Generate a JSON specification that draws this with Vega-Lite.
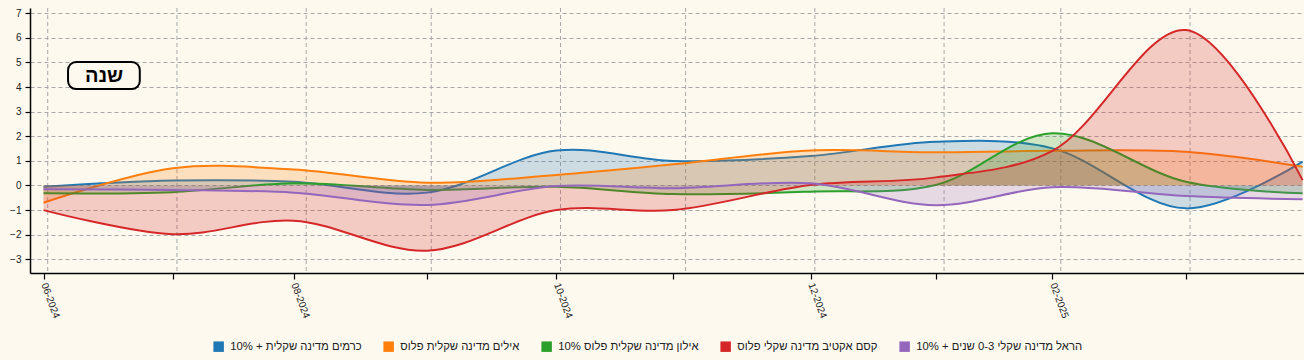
{
  "$schema": "https://vega.github.io/schema/vega-lite/v6.json",
  "autosize": {"type": "none"},
  "padding": {"left": 30, "top": 8, "right": 0, "bottom": 87},
  "width": 1274,
  "height": 265,
  "background": "#fdf9ef",
  "config": {
    "view": {"stroke": null},
    "font": "Liberation Sans",
    "axis": {"labelOverlap": false}
  },
  "datasets": {
    "funds": [
      {"fund": "כרמים מדינה שקלית + 10%", "date": "2024-06-29T00:00:00", "value": -0.05},
      {"fund": "כרמים מדינה שקלית + 10%", "date": "2024-07-30T00:00:00", "value": 0.2},
      {"fund": "כרמים מדינה שקלית + 10%", "date": "2024-08-28T00:00:00", "value": 0.15},
      {"fund": "כרמים מדינה שקלית + 10%", "date": "2024-09-29T00:00:00", "value": -0.29},
      {"fund": "כרמים מדינה שקלית + 10%", "date": "2024-10-30T00:00:00", "value": 1.42},
      {"fund": "כרמים מדינה שקלית + 10%", "date": "2024-11-27T00:00:00", "value": 1.0},
      {"fund": "כרמים מדינה שקלית + 10%", "date": "2024-12-30T00:00:00", "value": 1.2},
      {"fund": "כרמים מדינה שקלית + 10%", "date": "2025-01-29T00:00:00", "value": 1.78},
      {"fund": "כרמים מדינה שקלית + 10%", "date": "2025-02-26T00:00:00", "value": 1.51},
      {"fund": "כרמים מדינה שקלית + 10%", "date": "2025-03-30T00:00:00", "value": -0.93},
      {"fund": "כרמים מדינה שקלית + 10%", "date": "2025-04-27T00:00:00", "value": 0.97},
      {"fund": "אילים מדינה שקלית פלוס", "date": "2024-06-29T00:00:00", "value": -0.7},
      {"fund": "אילים מדינה שקלית פלוס", "date": "2024-07-30T00:00:00", "value": 0.7},
      {"fund": "אילים מדינה שקלית פלוס", "date": "2024-08-28T00:00:00", "value": 0.65},
      {"fund": "אילים מדינה שקלית פלוס", "date": "2024-09-29T00:00:00", "value": 0.11},
      {"fund": "אילים מדינה שקלית פלוס", "date": "2024-10-30T00:00:00", "value": 0.43},
      {"fund": "אילים מדינה שקלית פלוס", "date": "2024-11-27T00:00:00", "value": 0.86},
      {"fund": "אילים מדינה שקלית פלוס", "date": "2024-12-30T00:00:00", "value": 1.42},
      {"fund": "אילים מדינה שקלית פלוס", "date": "2025-01-29T00:00:00", "value": 1.35},
      {"fund": "אילים מדינה שקלית פלוס", "date": "2025-02-26T00:00:00", "value": 1.41},
      {"fund": "אילים מדינה שקלית פלוס", "date": "2025-03-30T00:00:00", "value": 1.37},
      {"fund": "אילים מדינה שקלית פלוס", "date": "2025-04-27T00:00:00", "value": 0.76},
      {"fund": "אילון מדינה שקלית פלוס 10%", "date": "2024-06-29T00:00:00", "value": -0.32},
      {"fund": "אילון מדינה שקלית פלוס 10%", "date": "2024-07-30T00:00:00", "value": -0.27},
      {"fund": "אילון מדינה שקלית פלוס 10%", "date": "2024-08-28T00:00:00", "value": 0.09},
      {"fund": "אילון מדינה שקלית פלוס 10%", "date": "2024-09-29T00:00:00", "value": -0.18},
      {"fund": "אילון מדינה שקלית פלוס 10%", "date": "2024-10-30T00:00:00", "value": -0.05},
      {"fund": "אילון מדינה שקלית פלוס 10%", "date": "2024-11-27T00:00:00", "value": -0.35},
      {"fund": "אילון מדינה שקלית פלוס 10%", "date": "2024-12-30T00:00:00", "value": -0.25},
      {"fund": "אילון מדינה שקלית פלוס 10%", "date": "2025-01-29T00:00:00", "value": 0.02},
      {"fund": "אילון מדינה שקלית פלוס 10%", "date": "2025-02-26T00:00:00", "value": 2.12},
      {"fund": "אילון מדינה שקלית פלוס 10%", "date": "2025-03-30T00:00:00", "value": 0.15},
      {"fund": "אילון מדינה שקלית פלוס 10%", "date": "2025-04-27T00:00:00", "value": -0.32},
      {"fund": "קסם אקטיב מדינה שקלי פלוס", "date": "2024-06-29T00:00:00", "value": -1.0},
      {"fund": "קסם אקטיב מדינה שקלי פלוס", "date": "2024-07-30T00:00:00", "value": -1.98},
      {"fund": "קסם אקטיב מדינה שקלי פלוס", "date": "2024-08-28T00:00:00", "value": -1.43},
      {"fund": "קסם אקטיב מדינה שקלי פלוס", "date": "2024-09-29T00:00:00", "value": -2.65},
      {"fund": "קסם אקטיב מדינה שקלי פלוס", "date": "2024-10-30T00:00:00", "value": -1.0},
      {"fund": "קסם אקטיב מדינה שקלי פלוס", "date": "2024-11-27T00:00:00", "value": -1.0},
      {"fund": "קסם אקטיב מדינה שקלי פלוס", "date": "2024-12-30T00:00:00", "value": 0.02},
      {"fund": "קסם אקטיב מדינה שקלי פלוס", "date": "2025-01-29T00:00:00", "value": 0.33},
      {"fund": "קסם אקטיב מדינה שקלי פלוס", "date": "2025-02-26T00:00:00", "value": 1.41},
      {"fund": "קסם אקטיב מדינה שקלי פלוס", "date": "2025-03-30T00:00:00", "value": 6.32},
      {"fund": "קסם אקטיב מדינה שקלי פלוס", "date": "2025-04-27T00:00:00", "value": 0.22},
      {"fund": "הראל מדינה שקלי 0-3 שנים + 10%", "date": "2024-06-29T00:00:00", "value": -0.15},
      {"fund": "הראל מדינה שקלי 0-3 שנים + 10%", "date": "2024-07-30T00:00:00", "value": -0.18},
      {"fund": "הראל מדינה שקלי 0-3 שנים + 10%", "date": "2024-08-28T00:00:00", "value": -0.29},
      {"fund": "הראל מדינה שקלי 0-3 שנים + 10%", "date": "2024-09-29T00:00:00", "value": -0.79},
      {"fund": "הראל מדינה שקלי 0-3 שנים + 10%", "date": "2024-10-30T00:00:00", "value": -0.02},
      {"fund": "הראל מדינה שקלי 0-3 שנים + 10%", "date": "2024-11-27T00:00:00", "value": -0.11},
      {"fund": "הראל מדינה שקלי 0-3 שנים + 10%", "date": "2024-12-30T00:00:00", "value": 0.09},
      {"fund": "הראל מדינה שקלי 0-3 שנים + 10%", "date": "2025-01-29T00:00:00", "value": -0.8},
      {"fund": "הראל מדינה שקלי 0-3 שנים + 10%", "date": "2025-02-26T00:00:00", "value": -0.07},
      {"fund": "הראל מדינה שקלי 0-3 שנים + 10%", "date": "2025-03-30T00:00:00", "value": -0.43},
      {"fund": "הראל מדינה שקלי 0-3 שנים + 10%", "date": "2025-04-27T00:00:00", "value": -0.56}
    ],
    "gridDates": [
      {"date": "2024-06-30T00:00:00"},
      {"date": "2024-07-31T00:00:00"},
      {"date": "2024-08-31T00:00:00"},
      {"date": "2024-09-30T00:00:00"},
      {"date": "2024-10-31T00:00:00"},
      {"date": "2024-11-30T00:00:00"},
      {"date": "2024-12-31T00:00:00"},
      {"date": "2025-01-31T00:00:00"},
      {"date": "2025-02-28T00:00:00"},
      {"date": "2025-03-31T00:00:00"}
    ]
  },
  "layer": [
    {
      "data": {"name": "gridDates"},
      "mark": {"type": "rule", "color": "#a8a8a8", "strokeWidth": 1, "strokeDash": [4, 3]},
      "encoding": {
        "x": {"field": "date", "type": "temporal"}
      }
    },
    {
      "data": {"name": "funds"},
      "encoding": {
        "x": {
          "field": "date",
          "type": "temporal",
          "scale": {"domain": [{"year": 2024, "month": 6, "date": 25, "hours": 18}, {"year": 2025, "month": 4, "date": 27, "hours": 8}]},
          "axis": {
            "title": null,
            "grid": false,
            "values": [
              {"year": 2024, "month": 6, "date": 29},
              {"year": 2024, "month": 7, "date": 30},
              {"year": 2024, "month": 8, "date": 28},
              {"year": 2024, "month": 9, "date": 29},
              {"year": 2024, "month": 10, "date": 30},
              {"year": 2024, "month": 11, "date": 27},
              {"year": 2024, "month": 12, "date": 30},
              {"year": 2025, "month": 1, "date": 29},
              {"year": 2025, "month": 2, "date": 26},
              {"year": 2025, "month": 3, "date": 30}
            ],
            "labelExpr": "month(datum.value) % 2 == 1 ? timeFormat(datum.value, '%m-%Y') : ''",
            "labelAngle": 70,
            "labelAlign": "left",
            "labelBaseline": "middle",
            "labelPadding": 4,
            "labelFontSize": 10,
            "labelColor": "#222",
            "labelOverlap": false,
            "labelFlush": false,
            "domainColor": "#000",
            "domainWidth": 1.5,
            "tickColor": "#000",
            "tickSize": 6,
            "tickWidth": 1.2
          }
        },
        "y": {
          "field": "value",
          "type": "quantitative",
          "stack": null,
          "scale": {"domain": [-3.557, 7.215], "nice": false, "zero": false},
          "axis": {
            "title": null,
            "values": [-3, -2, -1, 0, 1, 2, 3, 4, 5, 6, 7],
            "grid": true,
            "gridColor": "#a8a8a8",
            "gridDash": [4, 3],
            "gridWidth": 1,
            "labelFontSize": 10,
            "labelColor": "#222",
            "labelPadding": 4,
            "labelOverlap": false,
            "labelFlush": false,
            "domainColor": "#000",
            "domainWidth": 1.5,
            "tickColor": "#000",
            "tickSize": 5,
            "tickWidth": 1.2
          }
        }
      },
      "layer": [
        {
          "transform": [{"filter": "datum.fund === 'כרמים מדינה שקלית + 10%'"}],
          "layer": [
            {
              "mark": {"type": "area", "interpolate": "catmull-rom", "fillOpacity": 0.22},
              "encoding": {
                "color": {
                  "field": "fund",
                  "type": "nominal",
                  "scale": {
                    "domain": ["כרמים מדינה שקלית + 10%", "אילים מדינה שקלית פלוס", "אילון מדינה שקלית פלוס 10%", "קסם אקטיב מדינה שקלי פלוס", "הראל מדינה שקלי 0-3 שנים + 10%"],
                    "range": ["#1f77b4", "#ff7f0e", "#2ca02c", "#d62728", "#9467bd"]
                  },
                  "legend": {
                    "orient": "none",
                    "legendX": 183,
                    "legendY": 333,
                    "direction": "horizontal",
                    "columns": 5,
                    "title": null,
                    "symbolType": "square",
                    "symbolSize": 110,
                    "symbolStrokeWidth": 0,
                    "symbolOpacity": 1,
                    "labelFontSize": 11.3,
                    "labelColor": "#222",
                    "labelLimit": 400,
                    "columnPadding": 21,
                    "labelOffset": 6,
                    "encode": {"symbols": {"update": {"fillOpacity": {"value": 1}, "strokeWidth": {"value": 0}}}}
                  }
                }
              }
            },
            {
              "mark": {"type": "line", "interpolate": "catmull-rom", "strokeWidth": 2},
              "encoding": {"color": {"field": "fund", "type": "nominal", "legend": null}}
            }
          ]
        },
        {
          "transform": [{"filter": "datum.fund === 'אילים מדינה שקלית פלוס'"}],
          "layer": [
            {
              "mark": {"type": "area", "interpolate": "catmull-rom", "fillOpacity": 0.22},
              "encoding": {"color": {"field": "fund", "type": "nominal"}}
            },
            {
              "mark": {"type": "line", "interpolate": "catmull-rom", "strokeWidth": 2},
              "encoding": {"color": {"field": "fund", "type": "nominal", "legend": null}}
            }
          ]
        },
        {
          "transform": [{"filter": "datum.fund === 'אילון מדינה שקלית פלוס 10%'"}],
          "layer": [
            {
              "mark": {"type": "area", "interpolate": "catmull-rom", "fillOpacity": 0.22},
              "encoding": {"color": {"field": "fund", "type": "nominal"}}
            },
            {
              "mark": {"type": "line", "interpolate": "catmull-rom", "strokeWidth": 2},
              "encoding": {"color": {"field": "fund", "type": "nominal", "legend": null}}
            }
          ]
        },
        {
          "transform": [{"filter": "datum.fund === 'קסם אקטיב מדינה שקלי פלוס'"}],
          "layer": [
            {
              "mark": {"type": "area", "interpolate": "catmull-rom", "fillOpacity": 0.22},
              "encoding": {"color": {"field": "fund", "type": "nominal"}}
            },
            {
              "mark": {"type": "line", "interpolate": "catmull-rom", "strokeWidth": 2},
              "encoding": {"color": {"field": "fund", "type": "nominal", "legend": null}}
            }
          ]
        },
        {
          "transform": [{"filter": "datum.fund === 'הראל מדינה שקלי 0-3 שנים + 10%'"}],
          "layer": [
            {
              "mark": {"type": "area", "interpolate": "catmull-rom", "fillOpacity": 0.22},
              "encoding": {"color": {"field": "fund", "type": "nominal"}}
            },
            {
              "mark": {"type": "line", "interpolate": "catmull-rom", "strokeWidth": 2},
              "encoding": {"color": {"field": "fund", "type": "nominal", "legend": null}}
            }
          ]
        }
      ]
    },
    {
      "data": {"values": [{}]},
      "layer": [
        {
          "mark": {"type": "rect", "fill": "#fdf9ef", "stroke": "#000", "strokeWidth": 2, "cornerRadius": 8},
          "encoding": {
            "x": {"datum": {"year": 2024, "month": 7, "date": 4, "hours": 21}, "type": "temporal"},
            "x2": {"datum": {"year": 2024, "month": 7, "date": 22, "hours": 2}},
            "y": {
              "datum": 5.02,
              "type": "quantitative",
              "axis": {
                "title": null,
                "values": [-3, -2, -1, 0, 1, 2, 3, 4, 5, 6, 7],
                "grid": true,
                "gridColor": "#a8a8a8",
                "gridDash": [4, 3],
                "gridWidth": 1,
                "labelFontSize": 10,
                "labelColor": "#222",
                "labelPadding": 4,
                "labelOverlap": false,
                "labelFlush": false,
                "domainColor": "#000",
                "domainWidth": 1.5,
                "tickColor": "#000",
                "tickSize": 5,
                "tickWidth": 1.2
              }
            },
            "y2": {"datum": 3.92}
          }
        },
        {
          "mark": {"type": "text", "text": "שנה", "fontSize": 20, "fontWeight": "bold", "align": "center", "baseline": "middle", "color": "#000"},
          "encoding": {
            "x": {"datum": {"year": 2024, "month": 7, "date": 13, "hours": 12}, "type": "temporal"},
            "y": {
              "datum": 4.47,
              "type": "quantitative",
              "axis": {
                "title": null,
                "values": [-3, -2, -1, 0, 1, 2, 3, 4, 5, 6, 7],
                "grid": true,
                "gridColor": "#a8a8a8",
                "gridDash": [4, 3],
                "gridWidth": 1,
                "labelFontSize": 10,
                "labelColor": "#222",
                "labelPadding": 4,
                "labelOverlap": false,
                "labelFlush": false,
                "domainColor": "#000",
                "domainWidth": 1.5,
                "tickColor": "#000",
                "tickSize": 5,
                "tickWidth": 1.2
              }
            }
          }
        }
      ]
    }
  ]
}
